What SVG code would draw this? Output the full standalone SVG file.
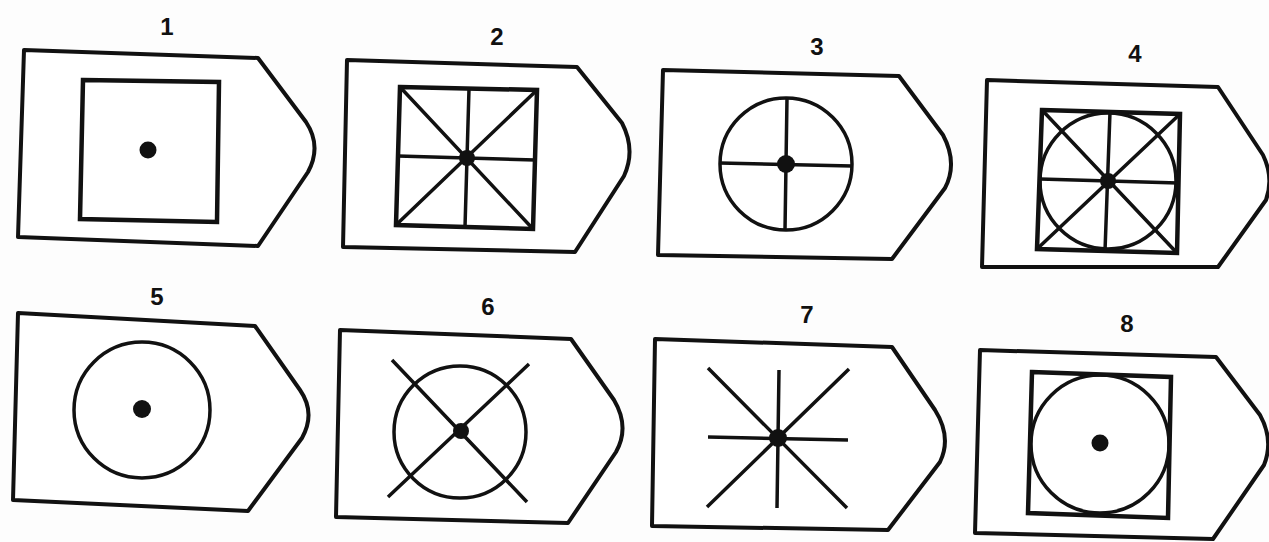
<svg xmlns="http://www.w3.org/2000/svg" width="1269" height="542" viewBox="0 0 1269 542">
<style>
.outer{fill:#fff;stroke:#111;stroke-width:4;stroke-linejoin:round}
.sq{fill:none;stroke:#111;stroke-width:4.5;stroke-linejoin:miter}
.ln{fill:none;stroke:#111;stroke-width:3.5;stroke-linecap:butt}
.cir{fill:none;stroke:#111;stroke-width:3.5}
.dot{fill:#111}
.lbl{font-family:"Liberation Sans",Arial,sans-serif;font-weight:bold;font-size:24px;fill:#111;text-anchor:middle}
</style>
<rect width="1269" height="542" fill="#fdfdfd"/>
<g id="node1">
<text class="lbl" x="167" y="35">1</text>
<path class="outer" d="M24,50 L258,58 L306,122 Q322,146 308,172 L258,246 L18,237 Z"/>
<path class="sq" d="M83,80 L219,82 L217,222 L80,219 Z"/>
<circle class="dot" cx="148" cy="150" r="8.5"/>
</g>
<g id="node2">
<text class="lbl" x="497" y="45">2</text>
<path class="outer" d="M347,60 L577,67 L622,123 Q636,150 624,176 L575,252 L343,247 Z"/>
<path class="sq" d="M400,87 L537,90 L533,229 L396,225 Z"/>
<path class="ln" d="M400,87 L533,229 M537,90 L396,225 M469,89 L465,227 M398,156 L535,160"/>
<circle class="dot" cx="467" cy="158" r="8"/>
</g>
<g id="node3">
<text class="lbl" x="817" y="55">3</text>
<path class="outer" d="M663,70 L899,76 L943,135 Q958,163 945,188 L892,259 L658,255 Z"/>
<circle class="cir" cx="786" cy="164" r="66"/>
<path class="ln" d="M787,98 L785,230 M720,163 L852,166"/>
<circle class="dot" cx="786" cy="164" r="9"/>
</g>
<g id="node4">
<text class="lbl" x="1135" y="62">4</text>
<path class="outer" d="M987,80 L1218,87 L1263,155 Q1274,178 1266,200 L1218,267 L982,267 Z"/>
<path class="sq" d="M1042,110 L1180,114 L1177,253 L1037,249 Z"/>
<circle class="cir" cx="1108" cy="181" r="68"/>
<path class="ln" d="M1042,110 L1177,253 M1180,114 L1037,249 M1110,112 L1105,251 M1040,179 L1178,183"/>
<circle class="dot" cx="1108" cy="181" r="8"/>
</g>
<g id="node5">
<text class="lbl" x="157" y="305">5</text>
<path class="outer" d="M18,313 L255,326 L300,390 Q316,413 302,438 L248,511 L13,500 Z"/>
<circle class="cir" cx="142" cy="410" r="68"/>
<circle class="dot" cx="142" cy="409" r="9"/>
</g>
<g id="node6">
<text class="lbl" x="488" y="315">6</text>
<path class="outer" d="M340,330 L571,339 L614,400 Q630,427 616,452 L568,523 L336,517 Z"/>
<circle class="cir" cx="460" cy="432" r="66"/>
<path class="ln" d="M392,360 L527,502 M529,364 L388,497"/>
<circle class="dot" cx="461" cy="431" r="8"/>
</g>
<g id="node7">
<text class="lbl" x="807" y="323">7</text>
<path class="outer" d="M655,339 L892,347 L935,410 Q952,437 940,462 L888,530 L652,526 Z"/>
<path class="ln" d="M779,370 L777,508 M708,437 L848,440 M708,368 L847,508 M849,369 L707,507"/>
<circle class="dot" cx="778" cy="438" r="9"/>
</g>
<g id="node8">
<text class="lbl" x="1127" y="332">8</text>
<path class="outer" d="M980,350 L1216,357 L1260,415 Q1274,440 1264,465 L1213,539 L975,533 Z"/>
<path class="sq" d="M1032,372 L1171,377 L1168,518 L1028,513 Z"/>
<circle class="cir" cx="1100" cy="444" r="69"/>
<circle class="dot" cx="1100" cy="443" r="8.5"/>
</g>
<g id="connectors"></g>
</svg>
